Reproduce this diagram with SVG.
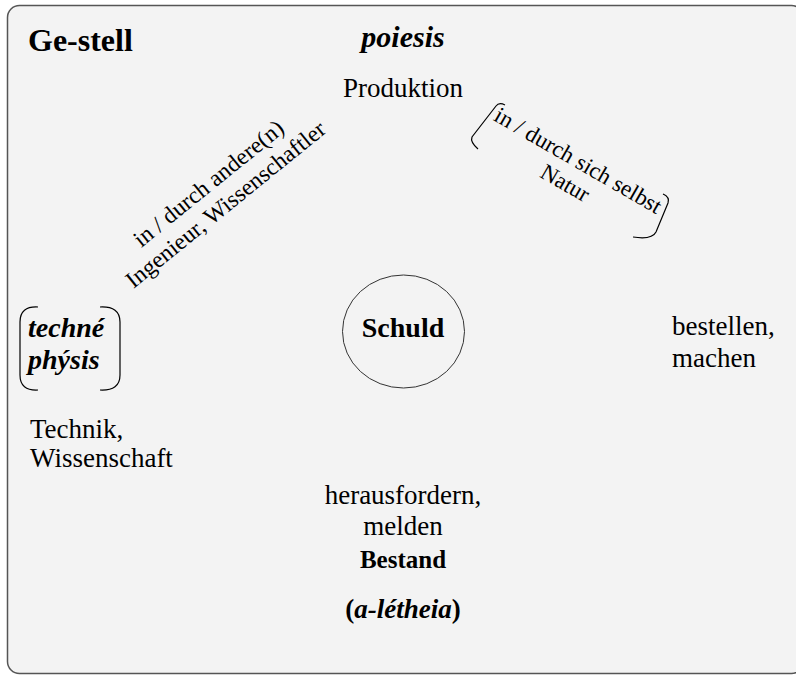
<svg xmlns="http://www.w3.org/2000/svg" width="796" height="675" viewBox="0 0 796 675">
<style>
text{font-family:"Liberation Serif","Times New Roman",serif;fill:#000}
.r{font-size:27px}
.b{font-weight:bold}
.bi{font-weight:bold;font-style:italic}
.m{text-anchor:middle}
.br{fill:none;stroke:#000;stroke-width:1.2}
</style>
<rect x="7.5" y="5.5" width="796" height="668" rx="12" fill="#f3f3f3" stroke="#555" stroke-width="1.5"/>
<g id="title"><text x="28" y="51" class="b" font-size="32">Ge-stell</text></g>
<g id="poiesis">
<text x="403" y="47" class="bi m" font-size="30">poiesis</text>
<text x="403" y="97" class="m" font-size="27">Produktion</text>
</g>
<g id="schuld">
<ellipse cx="403.5" cy="331.5" rx="61" ry="56.5" fill="none" stroke="#333" stroke-width="1"/>
<text x="403" y="337" class="b m" font-size="28">Schuld</text>
</g>
<g id="techne">
<path class="br" d="M38 307 Q20 306 20 322 L20 375 Q20 391 38 390"/>
<path class="br" d="M100 307 Q120 306 120 322 L120 375 Q120 391 100 390"/>
<text x="28" y="337" class="bi" font-size="28">techné</text>
<text x="28" y="369" class="bi" font-size="28">phýsis</text>
</g>
<g id="technik">
<text x="30" y="438" class="r">Technik,</text>
<text x="30" y="467" class="r">Wissenschaft</text>
</g>
<g id="bestellen">
<text x="672" y="335" class="r">bestellen,</text>
<text x="672" y="367" class="r">machen</text>
</g>
<g id="bestand">
<text x="403" y="504" class="r m">herausfordern,</text>
<text x="403" y="535" class="r m">melden</text>
<text x="403" y="568" class="b m" font-size="25">Bestand</text>
<text x="403" y="618" class="b m" font-size="27">(<tspan font-style="italic">a-létheia</tspan>)</text>
</g>
<g id="andere" transform="translate(209,184) rotate(-39)">
<text x="0" y="7" class="m" font-size="23.5">in / durch andere(n)</text>
<text x="0" y="34" class="m" font-size="23.5">Ingenieur, Wissenschaftler</text>
</g>
<g id="natur">
<path class="br" d="M505 105 Q499 102 496 106 L472 137 Q470 142 478 149"/>
<path class="br" d="M663 194 Q670 197 668 203 L656 232 Q652 240 633 237"/>
<g transform="translate(578,161) rotate(30)">
<text x="0" y="7" class="m" font-size="23">in / durch sich selbst</text>
<text x="0" y="33" class="m" font-size="23">Natur</text>
</g>
</g>
<g id="connectors"/>
</svg>
